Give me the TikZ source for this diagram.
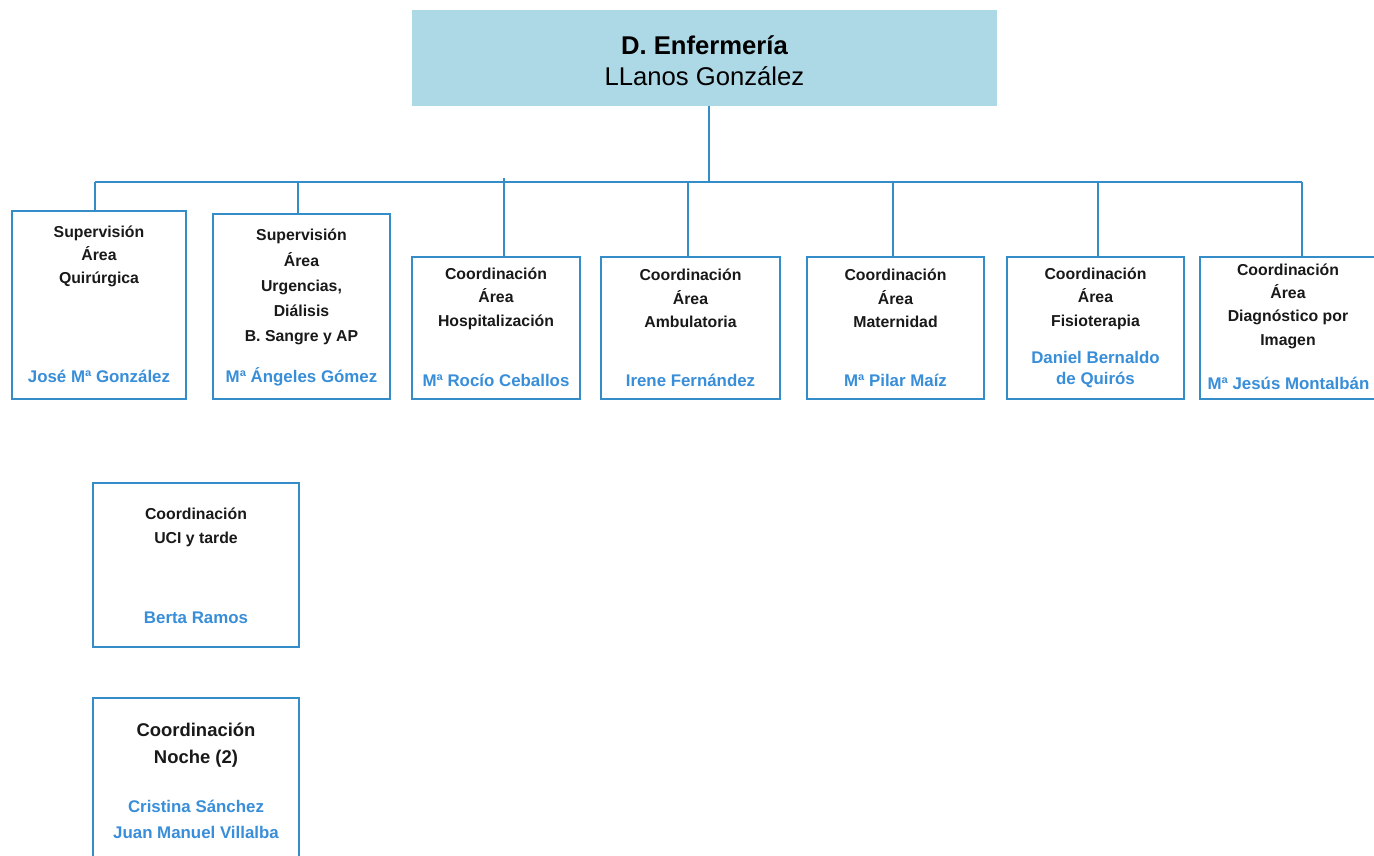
\documentclass[tikz,border=0pt]{standalone}
\usepackage{fontspec}
\setmainfont{Liberation Sans}
\usetikzlibrary{positioning}

\definecolor{linkblue}{RGB}{52,140,200}
\definecolor{namecol}{RGB}{56,142,216}
\definecolor{headfill}{RGB}{173,216,230}

\tikzset{
  link/.style={draw=linkblue, line width=0.9pt},
  unitbox/.style={draw=linkblue, line width=1.1pt, fill=white, inner sep=0pt},
  headbox/.style={fill=headfill, inner sep=0pt, minimum width=11.7cm, minimum height=1.92cm},
  role/.style={align=center, inner sep=0pt, text=black!90, font=\fontsize{9}{13.3}\selectfont\bfseries},
  who/.style={align=center, inner sep=0pt, text=namecol, font=\fontsize{9.6}{12}\selectfont\bfseries}
}

\begin{document}
\begin{tikzpicture}[x=0.02cm, y=-0.02cm]
			%%%%% START %%%%%
			\useasboundingbox (0,0) rectangle (1374,856);
			\clip (0,0) rectangle (1374,856);
			
			% direccion
			\node[headbox] (dir) at (704.5,58) {};
			\node[align=center, font=\fontsize{14.6}{17.6}\selectfont] (dirtxt) at (704.5,60.5)
				{\textbf{D. Enfermería}\\LLanos González};
			
			% unidades
			\node[unitbox, minimum width=3.48cm, minimum height=3.76cm] (b1) at (99,305) {};
			\node[unitbox, minimum width=3.54cm, minimum height=3.70cm] (b2) at (301.5,306.5) {};
			\node[unitbox, minimum width=3.36cm, minimum height=2.84cm] (b3) at (496,328) {};
			\node[unitbox, minimum width=3.58cm, minimum height=2.84cm] (b4) at (690.5,328) {};
			\node[unitbox, minimum width=3.54cm, minimum height=2.84cm] (b5) at (895.5,328) {};
			\node[unitbox, minimum width=3.54cm, minimum height=2.84cm] (b6) at (1095.5,328) {};
			\node[unitbox, minimum width=3.52cm, minimum height=2.84cm] (b7) at (1288,328) {};
			\node[unitbox, minimum width=4.12cm, minimum height=3.28cm] (uci) at (196,565) {};
			\node[unitbox, minimum width=4.12cm, minimum height=3.44cm] (noche) at (196,784) {};
			
			% conectores
			\coordinate (hub) at (709,182);
			\coordinate (t1) at (95,182);
			\coordinate (t2) at (298,182);
			\coordinate (t3) at (504,182);
			\coordinate (t4) at (688,182);
			\coordinate (t5) at (893,182);
			\coordinate (t6) at (1098,182);
			\coordinate (t7) at (1302,182);
			\draw[link] (dir.south -| hub) -- (hub);
			\draw[link] (t1) -- (t7);
			\draw[link] (t1) -- (t1 |- b1.north);
			\draw[link] (t2) -- (t2 |- b2.north);
			\draw[link] ([yshift=0.08cm]t3) -- (t3 |- b3.north);
			\draw[link] (t4) -- (t4 |- b4.north);
			\draw[link] (t5) -- (t5 |- b5.north);
			\draw[link] (t6) -- (t6 |- b6.north);
			\draw[link] (t7) -- (t7 |- b7.north);
			
			% textos
			\node[role] (r1) at (99,256.5) {Supervisión\\Área\\Quirúrgica};
			\node[who] (n1) at (99,376) {José Mª González};
			\node[role, font=\fontsize{9}{14.3}\selectfont\bfseries] (r2) at (301.5,287)
				{Supervisión\\Área\\Urgencias,\\Diálisis\\B. Sangre y AP};
			\node[who] (n2) at (301.5,377) {Mª Ángeles Gómez};
			\node[role] (r3) at (496,298.5) {Coordinación\\Área\\Hospitalización};
			\node[who] (n3) at (496,380) {Mª Rocío Ceballos};
			\node[role] (r4) at (690.5,298.5) {Coordinación\\Área\\Ambulatoria};
			\node[who] (n4) at (690.5,380) {Irene Fernández};
			\node[role] (r5) at (895.5,298.5) {Coordinación\\Área\\Maternidad};
			\node[who] (n5) at (895.5,380) {Mª Pilar Maíz};
			\node[role] (r6) at (1095.5,298.5) {Coordinación\\Área\\Fisioterapia};
			\node[who] (n6) at (1095.5,369.5) {Daniel Bernaldo\\de Quirós};
			\node[role] (r7) at (1288,306) {Coordinación\\Área\\Diagnóstico por\\Imagen};
			\node[who] (n7) at (1288.5,383) {Mª Jesús Montalbán};
			
			\node[role] (r8) at (196,527.5) {Coordinación\\UCI y tarde};
			\node[who] (n8) at (196,618) {Berta Ramos};
			\node[role, font=\fontsize{10.5}{15.3}\selectfont\bfseries] (r9) at (196,745.5) {Coordinación\\Noche (2)};
			\node[who, font=\fontsize{9.6}{14.7}\selectfont\bfseries] (n9) at (196,819) {Cristina Sánchez\\Juan Manuel Villalba};
			
			%%%%% END %%%%%
\end{tikzpicture}
\end{document}
